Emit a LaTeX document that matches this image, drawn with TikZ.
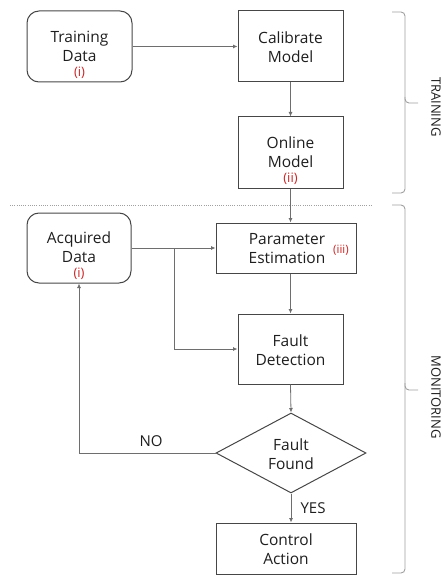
\documentclass[tikz,border=0pt]{standalone}
\usepackage{fontspec}
\setmainfont{Open Sans}
\usetikzlibrary{shapes.geometric,arrows.meta}
\definecolor{boxline}{RGB}{70,70,70}
\definecolor{conline}{RGB}{110,110,110}
\definecolor{txtc}{RGB}{30,30,30}
\definecolor{redc}{RGB}{205,35,35}
\definecolor{bracec}{RGB}{160,160,160}
\tikzset{
  box/.style={draw=boxline, line width=1pt, minimum width=105pt, minimum height=71pt, inner sep=0pt},
  rbox/.style={box, rounded corners=12pt},
  txt/.style={align=center, text=txtc, font=\fontsize{15.5}{19}\selectfont, inner sep=0pt},
  arr/.style={draw=conline, line width=0.8pt, -{Latex[length=4.5pt,width=4pt]}},
  bracestyle/.style={draw=bracec, line width=0.9pt, rounded corners=4pt},
  side/.style={text=txtc, font=\fontsize{13}{15}\selectfont, rotate=-90, inner sep=0pt},
  lbl/.style={text=txtc, font=\fontsize{15}{17}\selectfont, inner sep=0pt}
}
\newcommand{\redtag}[1]{{\fontsize{13}{14}\selectfont\color{redc}#1}}
\begin{document}
\begin{tikzpicture}[x=1pt,y=-1pt]
\useasboundingbox (0,0) rectangle (441,577);
% boxes
\node[rbox] (td) at (79.5,46.5) {};
\node[txt] (tdt) at (79.5,55) {Training\\Data\\[-4pt]\redtag{(i)}};
\node[box] (cm) at (290.5,46.5) {};
\node[txt] (cmt) at (290.5,47) {Calibrate\\Model};
\node[box, minimum height=72pt] (om) at (290.5,153) {};
\node[txt] (omt) at (290.5,161) {Online\\Model\\[-4pt]\redtag{(ii)}};
\node[rbox, minimum width=104pt, minimum height=70pt] (ad) at (79,248) {};
\node[txt] (adt) at (79,256) {Acquired\\Data\\[-4pt]\redtag{(i)}};
\node[box, minimum width=140pt, minimum height=50pt] (pe) at (286,248) {};
\node[txt] (pet) at (287,248.5) {Parameter\\Estimation};
\node[inner sep=0pt] (pel) at (341,250) {\fontsize{11.5}{13}\selectfont\color{redc}(iii)};
\node[box, minimum height=70pt] (fd) at (290.5,349) {};
\node[txt] (fdt) at (290.5,350) {Fault\\Detection};
\node[draw=boxline, line width=1pt, diamond, aspect=1.875, minimum width=150pt, minimum height=80pt, inner sep=0pt] (ff) at (291,453) {};
\node[txt] (fft) at (291,454) {Fault\\Found};
\node[box, minimum width=140pt, minimum height=51pt] (ca) at (286,548.5) {};
\node[txt] (cat) at (286,549.5) {Control\\Action};
% dotted separator
\draw[draw=bracec, line width=0.9pt, dash pattern=on 1pt off 1.2pt] (10,205) -- (373,205);
% connectors
\draw[arr] (td.east) -- (cm.west);
\draw[arr] (cm.south) -- (om.north);
\draw[arr] (om.south) -- (om.south |- pe.north);
\draw[arr] (ad.east) -- (pe.west);
\coordinate (br) at (174,248);
\draw[arr] (br) |- (fd.west);
\draw[arr] (fd.north |- pe.south) -- (fd.north);
\draw[arr] (fd.south) -- (ff.north);
\draw[arr] (ff.west) -| (ad.south);
\draw[arr] (ff.south) -- (ff.south |- ca.north);
\node[lbl] (no) at (151,441) {NO};
\node[lbl] (yes) at (313,508) {YES};
% braces
\draw[bracestyle] (392,12) -- (405,12) -- (405,193) -- (392,193);
\draw[bracestyle] (405,97) -- (405,103) -- (418,103);
\draw[bracestyle] (392,205) -- (405,205) -- (405,573) -- (392,573);
\draw[bracestyle] (405,383) -- (405,390) -- (418,390);
\node[side, anchor=south] (trn) at (431,107) {TRAINING};
\node[side, anchor=south] (mon) at (431,397) {MONITORING};
\end{tikzpicture}
\end{document}
